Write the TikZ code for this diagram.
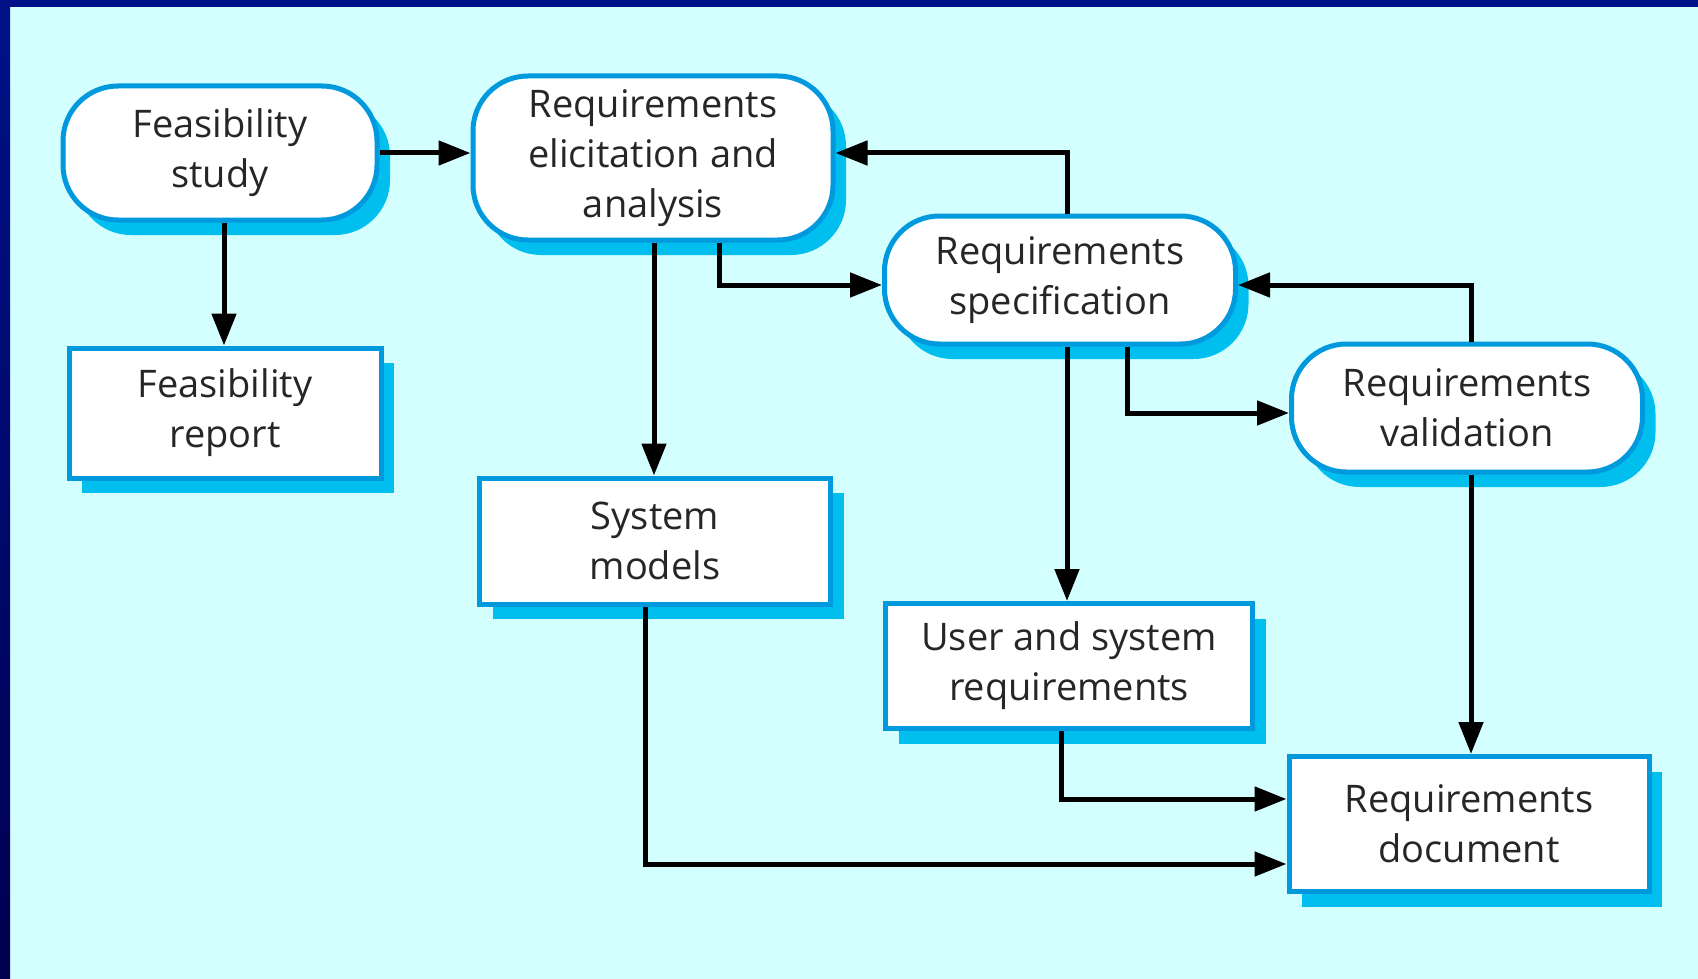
\documentclass[tikz,border=0pt]{standalone}
\usepackage{fontspec}
\setmainfont{Open Sans}
\usetikzlibrary{arrows.meta,calc,shadows}
\definecolor{bg}{RGB}{212,255,255}
\definecolor{navy}{RGB}{0,17,136}
\definecolor{navyd}{RGB}{0,0,80}
\definecolor{bord}{RGB}{0,153,221}
\definecolor{shad}{RGB}{0,191,238}
\tikzset{
  base/.style={draw=bord, line width=5pt, fill=white, align=center, text=black!85,
    font=\fontsize{38}{50}\selectfont, inner sep=0pt,
    drop shadow={shadow xshift=13pt, shadow yshift=-15pt, fill=shad, opacity=1, draw=none}},
  rbox/.style={base, rounded corners=55pt},
  sbox/.style={base},
  arr/.style={line width=5pt, -{Triangle[length=32pt,width=24pt]}}
}
\begin{document}
\begin{tikzpicture}[x=1pt,y=-1pt]
\useasboundingbox (0,0) rectangle (1698,979);
\fill[bg] (0,0) rectangle (1698,979);
\fill[navy] (0,0) rectangle (1698,7);
\shade[top color=navy, bottom color=navyd] (0,0) rectangle (10,979);

% nodes
\node[rbox, minimum width=314pt, minimum height=134pt] (FS) at (220,153) {Feasibility\\study};
\node[rbox, minimum width=360pt, minimum height=164pt] (REA) at (653,158) {Requirements\\elicitation and\\analysis};
\node[rbox, minimum width=351pt, minimum height=128pt] (RS) at (1060,280) {Requirements\\specification};
\node[rbox, minimum width=351pt, minimum height=128pt] (RV) at (1467,408) {Requirements\\validation};
\node[sbox, minimum width=312pt, minimum height=130pt] (FR) at (225,413) {Feasibility\\report};
\node[sbox, minimum width=351pt, minimum height=126pt] (SM) at (655,541) {System\\models};
\node[sbox, minimum width=367pt, minimum height=125pt] (USR) at (1069,666) {User and system\\requirements};
\node[sbox, minimum width=360pt, minimum height=135pt] (RD) at (1469,824) {Requirements\\document};

% connectors
\draw[arr] (FS.east |- 0,153) -- (REA.west |- 0,153);
\draw[arr] (FS.south -| 224,0) -- (FR.north -| 224,0);
\draw[arr] (REA.south -| 654,0) -- (SM.north -| 654,0);
\draw[arr] (REA.south -| 719,0) |- ($(RS.west)+(0,5)$);
\draw[arr] (RS.north -| 1067,0) |- ($(REA.east)+(0,-5)$);
\draw[arr] (RS.south -| 1127,0) |- ($(RV.west)+(0,5)$);
\draw[arr] (RV.north -| 1471,0) |- ($(RS.east)+(0,5)$);
\draw[arr] (RS.south -| 1067,0) -- (USR.north -| 1067,0);
\draw[arr] (RV.south -| 1471,0) -- (RD.north -| 1471,0);
\draw[arr] (USR.south -| 1061,0) |- (RD.west |- 0,799);
\draw[arr] (SM.south -| 645,0) |- (RD.west |- 0,864);
\end{tikzpicture}
\end{document}
